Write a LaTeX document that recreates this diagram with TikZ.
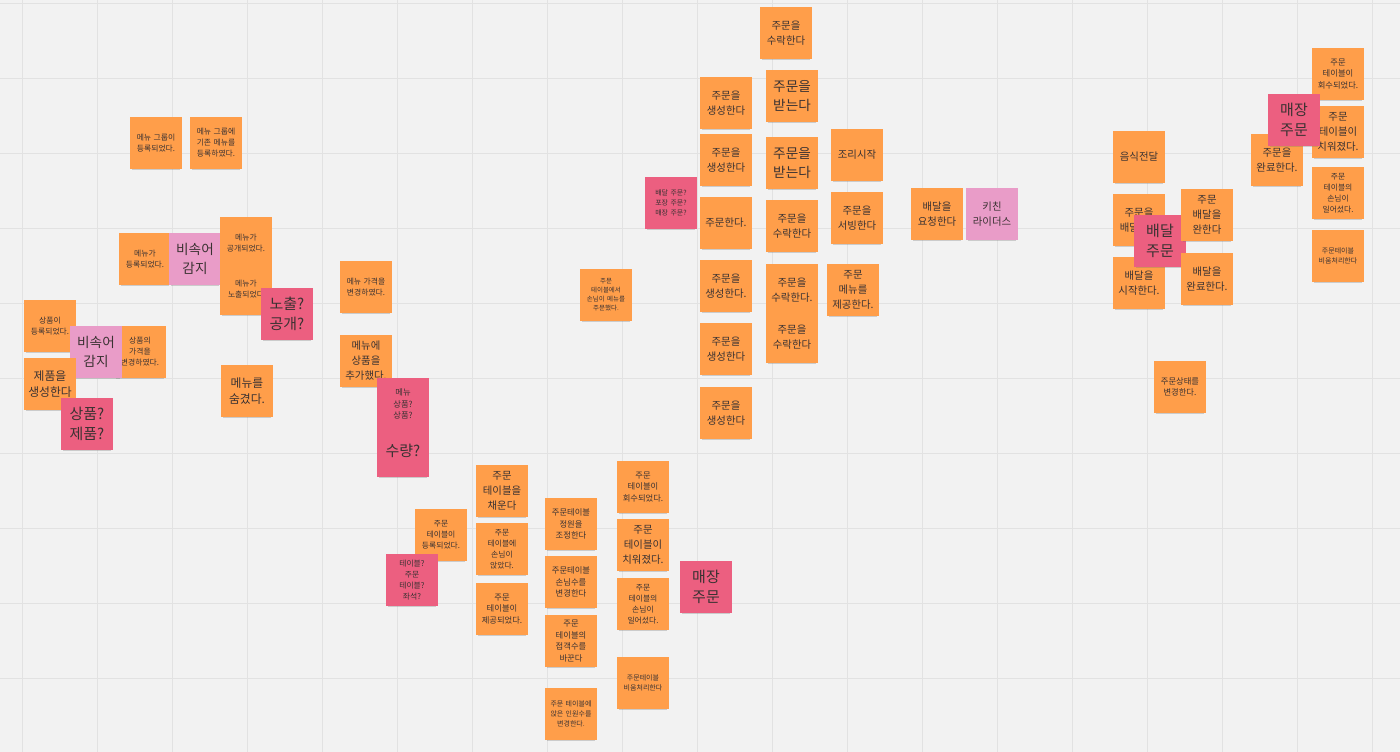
\documentclass[tikz,border=0pt]{standalone}
\usepackage{fontspec}
\newfontfamily\kr{Noto Sans CJK KR}
\usetikzlibrary{shadows}
\definecolor{board}{HTML}{F2F2F2}
\definecolor{gridline}{HTML}{E2E2E2}
\definecolor{evt}{HTML}{FF9E4A}
\definecolor{hot}{HTML}{EC5F80}
\definecolor{pol}{HTML}{E99CC8}
\definecolor{ink}{HTML}{3A3232}

\tikzset{
  sticky/.style={minimum width=52pt, minimum height=52pt, inner sep=1pt,
    text width=50pt, align=center, text=ink,
    drop shadow={shadow xshift=0pt, shadow yshift=-3pt, shadow scale=0.94, opacity=.3, fill=black!55}},
  event/.style={sticky, fill=evt},
  hotspot/.style={sticky, fill=hot},
  policy/.style={sticky, fill=pol},
  tinytext/.style={font=\kr\fontsize{6.5}{9}\selectfont},
  xstext/.style={font=\kr\fontsize{7}{10}\selectfont},
  smalltext/.style={font=\kr\fontsize{7.8}{11}\selectfont},
  smtext/.style={font=\kr\fontsize{8.3}{11.5}\selectfont},
  midtext/.style={font=\kr\fontsize{10.4}{15}\selectfont},
  mdltext/.style={font=\kr\fontsize{11.8}{16}\selectfont},
  bigtext/.style={font=\kr\fontsize{13.6}{18.5}\selectfont},
  hugetext/.style={font=\kr\fontsize{15}{20}\selectfont}
}

\begin{document}
\begin{tikzpicture}[x=1pt, y=-1pt]
  % board
  \fill[board] (0,0) rectangle (1400,752);
  \useasboundingbox (0,0) rectangle (1400,752);
  \foreach \x in {22,97,...,1372} \draw[gridline] (\x,0) -- (\x,752);
  \foreach \y in {3,78,...,753} \draw[gridline] (0,\y) -- (1400,\y);

  % menu / product
  \node[event, smalltext] (menuGroupReg) at (156,143) {메뉴 그룹이\\등록되었다.};
  \node[event, smalltext] (menuGroupAdd) at (216,143) {메뉴 그룹에\\기존 메뉴를\\등록하였다.};
  \node[event, smalltext] (menuReg) at (145,259) {메뉴가\\등록되었다.};
  \node[policy, bigtext] (slangMenu) at (195,259) {비속어\\감지};
  \node[event, smalltext] (menuOpen) at (246,243) {메뉴가\\공개되었다.};
  \node[event, smalltext] (menuShown) at (246,289) {메뉴가\\노출되었다};
  \node[hotspot, hugetext] (qShown) at (287,314) {노출?\\공개?};
  \node[event, smalltext] (prodReg) at (50,326) {상품이\\등록되었다.};
  \node[event, smalltext] (prodPrice) at (140,352) {상품의\\가격을\\변경하였다.};
  \node[policy, bigtext] (slangProd) at (96,352) {비속어\\감지};
  \node[event, mdltext] (prodCreate) at (50,384) {제품을\\생성한다};
  \node[hotspot, hugetext] (qProd) at (87,424) {상품?\\제품?};
  \node[event, mdltext] (menuHide) at (247,391) {메뉴를\\숨겼다.};
  \node[event, smalltext] (menuPrice) at (366,287) {메뉴 가격을\\변경하였다.};
  \node[event, midtext] (menuAddProd) at (366,361) {메뉴에\\상품을\\추가했다.};
  \node[hotspot, smtext] (qMenuProd) at (403,404) {메뉴\\상품?\\상품?};
  \node[hotspot, hugetext] (qQty) at (403,451) {수량?};

  % order table
  \node[event, smalltext] (tableReg) at (441,535) {주문\\테이블이\\등록되었다.};
  \node[hotspot, smalltext] (qTable) at (412,580) {테이블?\\주문\\테이블?\\좌석?};
  \node[event, midtext] (tableFill) at (502,491) {주문\\테이블을\\채운다};
  \node[event, smalltext] (guestSat) at (502,549) {주문\\테이블에\\손님이\\앉았다.};
  \node[event, smtext] (tableGiven) at (502,609) {주문\\테이블이\\제공되었다.};
  \node[event, smtext] (capAdjust) at (571,524) {주문테이블\\정원을\\조정한다};
  \node[event, smtext] (guestChange) at (571,582) {주문테이블\\손님수를\\변경한다};
  \node[event, smtext] (guestSwap) at (571,641) {주문\\테이블의\\접객수를\\바꾼다};
  \node[event, xstext] (seatChange) at (571,714) {주문 테이블에\\앉은 인원수를\\변경한다.};
  \node[event, smtext] (tableBack) at (643,487) {주문\\테이블이\\회수되었다.};
  \node[event, midtext] (tableClear) at (643,545) {주문\\테이블이\\치워졌다.};
  \node[event, smalltext] (guestLeft) at (643,604) {주문\\테이블의\\손님이\\일어섰다.};
  \node[event, xstext] (tableEmpty) at (643,683) {주문테이블\\비움처리한다};
  \node[hotspot, hugetext] (hallOrder) at (706,587) {매장\\주문};

  % order
  \node[event, tinytext] (guestOrdered) at (606,295) {주문\\테이블에서\\손님이 메뉴를\\주문했다.};
  \node[hotspot, xstext] (qOrderType) at (671,203) {배달 주문?\\포장 주문?\\매장 주문?};
  \node[event, midtext] (create1) at (726,103) {주문을\\생성한다};
  \node[event, midtext] (create2) at (726,160) {주문을\\생성한다};
  \node[event, midtext] (orderDo) at (726,223) {주문한다.};
  \node[event, midtext] (create3) at (726,286) {주문을\\생성한다.};
  \node[event, midtext] (create4) at (726,349) {주문을\\생성한다};
  \node[event, midtext] (create5) at (726,413) {주문을\\생성한다};
  \node[event, midtext] (accept1) at (786,33) {주문을\\수락한다};
  \node[event, bigtext] (receive1) at (792,96) {주문을\\받는다};
  \node[event, bigtext] (receive2) at (792,163) {주문을\\받는다};
  \node[event, midtext] (accept2) at (792,226) {주문을\\수락한다};
  \node[event, midtext] (accept3) at (792,290) {주문을\\수락한다.};
  \node[event, midtext] (accept4) at (792,337) {주문을\\수락한다};
  \node[event, midtext] (cookStart) at (857,155) {조리시작};
  \node[event, midtext] (serve) at (857,218) {주문을\\서빙한다};
  \node[event, midtext] (menuServe) at (853,290) {주문\\메뉴를\\제공한다.};
  \node[event, midtext] (reqDelivery) at (937,214) {배달을\\요청한다};
  \node[policy, midtext] (riders) at (992,214) {키친\\라이더스};

  % delivery / hall
  \node[event, midtext] (foodHand) at (1139,157) {음식전달};
  \node[event, midtext] (deliverOrder) at (1139,220) {주문을\\배달한다};
  \node[event, midtext] (deliverStart) at (1139,283) {배달을\\시작한다.};
  \node[hotspot, hugetext] (qDelivery) at (1160,241) {배달\\주문};
  \node[event, midtext] (deliverDone1) at (1207,215) {주문\\배달을\\완한다};
  \node[event, midtext] (deliverDone2) at (1207,279) {배달을\\완료한다.};
  \node[event, smtext] (stateChange) at (1180,387) {주문상태를\\변경한다.};
  \node[event, midtext] (orderDone) at (1277,160) {주문을\\완료한다.};
  \node[event, smtext] (tableBack2) at (1338,74) {주문\\테이블이\\회수되었다.};
  \node[event, midtext] (tableClear2) at (1338,132) {주문\\테이블이\\치워졌다.};
  \node[event, smalltext] (guestLeft2) at (1338,193) {주문\\테이블의\\손님이\\일어섰다.};
  \node[event, xstext] (tableEmpty2) at (1338,256) {주문테이블\\비움처리한다};
  \node[hotspot, hugetext] (hallOrder2) at (1294,120) {매장\\주문};
\end{tikzpicture}
\end{document}
